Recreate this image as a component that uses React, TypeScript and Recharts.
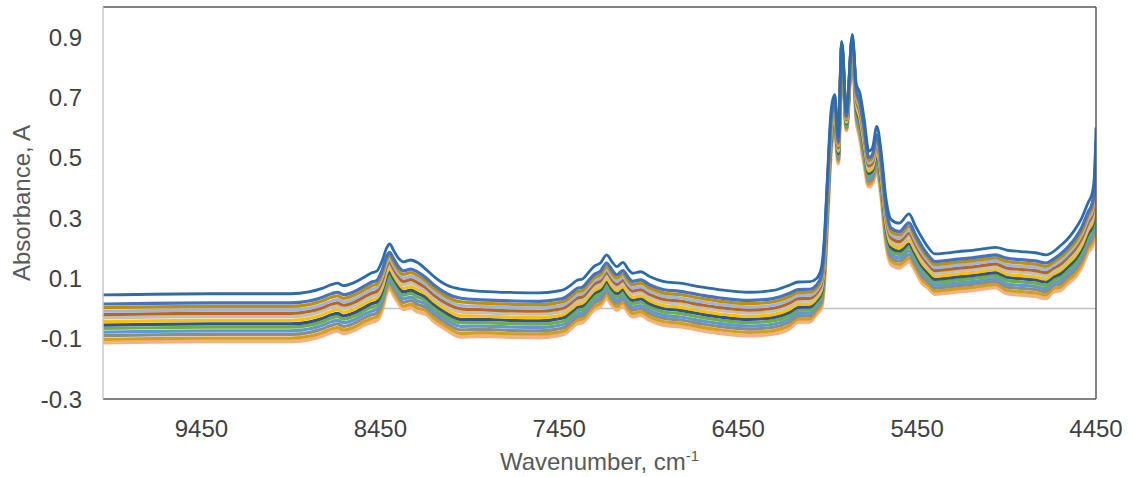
import { LineChart, Line, XAxis, YAxis, ReferenceLine } from 'recharts'

// wavenumber grid, cm-1 (denser where the CH overtone bands are sharp)
const wavenumbers = [
    10000, 9400, 8950, 8850, 8780, 8720, 8690, 8655, 8600, 8540,
    8500, 8470, 8440, 8415, 8398, 8375, 8350, 8320, 8280, 8240,
    8195, 8150, 8080, 8000, 7880, 7700, 7560, 7470, 7420, 7380,
    7350, 7320, 7290, 7255, 7220, 7185, 7155, 7128, 7095, 7060,
    7040, 6995, 6945, 6870, 6775, 6660, 6550, 6390, 6255, 6165,
    6115, 6050, 6012, 5985, 5970, 5950, 5930, 5910, 5890, 5871,
    5845, 5812, 5790, 5770, 5745, 5720, 5700, 5675, 5650, 5625,
    5595, 5550, 5495, 5460, 5420, 5385, 5350, 5290, 5220, 5140,
    5070, 5010, 4950, 4870, 4790, 4730, 4690, 4650, 4610, 4570,
    4530, 4495, 4470, 4458, 4450,
]

// highest spectrum, sits apart from the rest
const top = [
    0.045, 0.049, 0.049, 0.055, 0.066, 0.080, 0.084, 0.076, 0.085, 0.104,
    0.118, 0.124, 0.158, 0.200, 0.214, 0.192, 0.168, 0.155, 0.161, 0.152,
    0.130, 0.106, 0.078, 0.064, 0.057, 0.053, 0.052, 0.057, 0.064, 0.080,
    0.094, 0.098, 0.117, 0.140, 0.151, 0.178, 0.155, 0.139, 0.153, 0.127,
    0.117, 0.122, 0.106, 0.090, 0.084, 0.072, 0.062, 0.054, 0.060, 0.077,
    0.088, 0.089, 0.100, 0.135, 0.220, 0.450, 0.660, 0.709, 0.570, 0.886,
    0.650, 0.909, 0.745, 0.715, 0.625, 0.522, 0.532, 0.604, 0.516, 0.370,
    0.295, 0.283, 0.314, 0.274, 0.232, 0.200, 0.181, 0.184, 0.189, 0.193,
    0.199, 0.203, 0.194, 0.189, 0.185, 0.178, 0.188, 0.208, 0.230, 0.260,
    0.300, 0.350, 0.385, 0.450, 0.600,
]

const s01 = [
    .015, .019, .019, .025, .036, .050, .054, .046, .055, .074,
    .087, .093, .127, .172, .186, .164, .140, .125, .131, .121,
    .102, .078, .050, .034, .029, .025, .024, .029, .036, .053,
    .067, .071, .090, .113, .124, .151, .128, .112, .126, .100,
    .090, .095, .079, .063, .057, .045, .035, .027, .033, .050,
    .063, .064, .078, .110, .192, .422, .635, .687, .553, .878,
    .639, .898, .723, .687, .597, .500, .510, .576, .488, .342,
    .267, .255, .284, .246, .204, .175, .156, .159, .164, .168,
    .174, .178, .167, .162, .158, .151, .163, .180, .202, .230,
    .269, .319, .351, .414, .550,
]

const s02 = [
    .003, .007, .007, .013, .024, .038, .042, .034, .043, .062,
    .075, .081, .115, .161, .175, .153, .129, .113, .119, .109,
    .091, .067, .039, .022, .018, .014, .013, .018, .025, .042,
    .056, .060, .079, .102, .113, .140, .117, .101, .115, .089,
    .079, .084, .068, .052, .046, .034, .024, .016, .022, .039,
    .053, .054, .069, .100, .181, .411, .625, .678, .547, .874,
    .634, .893, .714, .676, .586, .491, .501, .565, .477, .331,
    .256, .244, .272, .235, .193, .165, .146, .149, .154, .158,
    .164, .168, .156, .151, .147, .140, .153, .169, .191, .218,
    .257, .307, .338, .399, .530,
]

const s03 = [
    -.009, -.005, -.005, .001, .012, .026, .030, .022, .031, .050,
    .063, .069, .103, .150, .164, .142, .118, .101, .107, .097,
    .080, .056, .028, .010, .007, .003, .002, .007, .014, .031,
    .045, .049, .068, .091, .102, .129, .106, .090, .104, .078,
    .068, .073, .057, .041, .035, .023, .013, .005, .011, .028,
    .043, .044, .060, .090, .170, .400, .615, .669, .540, .871,
    .630, .889, .705, .665, .575, .482, .492, .554, .466, .320,
    .245, .233, .260, .224, .182, .155, .136, .139, .144, .148,
    .154, .158, .145, .140, .136, .129, .143, .158, .180, .206,
    .245, .295, .325, .385, .510,
]

const s04 = [
    -.020, -.016, -.016, -.010, .001, .015, .019, .011, .020, .039,
    .051, .057, .091, .139, .153, .131, .107, .090, .096, .085,
    .069, .045, .017, -.001, -.004, -.008, -.009, -.004, .003, .021,
    .035, .039, .058, .081, .092, .119, .096, .080, .094, .068,
    .058, .063, .047, .031, .025, .013, .003, -.005, .001, .018,
    .033, .034, .051, .080, .159, .389, .605, .660, .533, .868,
    .626, .885, .696, .654, .564, .473, .483, .543, .455, .309,
    .234, .222, .249, .213, .171, .145, .126, .129, .134, .138,
    .144, .148, .135, .130, .126, .119, .133, .147, .169, .195,
    .233, .283, .312, .371, .490,
]

const s05 = [
    -.031, -.027, -.027, -.021, -.010, .004, .008, .000, .009, .028,
    .040, .046, .080, .129, .143, .121, .097, .079, .085, .074,
    .059, .035, .007, -.012, -.014, -.018, -.019, -.014, -.007, .011,
    .025, .029, .048, .071, .082, .109, .086, .070, .084, .058,
    .048, .053, .037, .021, .015, .003, -.007, -.015, -.009, .008,
    .024, .025, .043, .071, .149, .379, .596, .652, .527, .865,
    .622, .881, .688, .644, .554, .465, .475, .533, .445, .299,
    .224, .212, .238, .203, .161, .136, .117, .120, .125, .129,
    .135, .139, .125, .120, .116, .109, .124, .137, .159, .184,
    .222, .272, .300, .358, .472,
]

const s06 = [
    -.043, -.039, -.039, -.033, -.022, -.008, -.004, -.012, -.003, .016,
    .028, .034, .068, .118, .132, .110, .086, .067, .073, .062,
    .048, .024, -.004, -.024, -.025, -.029, -.030, -.025, -.018, .000,
    .014, .018, .037, .060, .071, .098, .075, .059, .073, .047,
    .037, .042, .026, .010, .004, -.008, -.018, -.026, -.020, -.003,
    .014, .015, .034, .061, .138, .368, .586, .643, .521, .861,
    .617, .876, .679, .633, .543, .456, .466, .522, .434, .288,
    .213, .201, .226, .192, .150, .126, .107, .110, .115, .119,
    .125, .129, .114, .109, .105, .098, .114, .126, .148, .172,
    .210, .260, .287, .343, .452,
]

const s07 = [
    -.055, -.051, -.051, -.045, -.034, -.020, -.016, -.024, -.015, .004,
    .016, .022, .056, .107, .121, .099, .075, .055, .061, .050,
    .037, .013, -.015, -.036, -.036, -.040, -.041, -.036, -.029, -.010,
    .004, .008, .027, .050, .061, .088, .065, .049, .063, .037,
    .027, .032, .016, .000, -.006, -.018, -.028, -.036, -.030, -.013,
    .004, .005, .026, .051, .127, .357, .576, .635, .514, .858,
    .613, .872, .671, .622, .532, .448, .458, .511, .423, .277,
    .202, .190, .214, .181, .139, .116, .097, .100, .105, .109,
    .115, .119, .104, .099, .095, .088, .104, .115, .137, .160,
    .198, .248, .273, .329, .433,
]

const s08 = [
    -.066, -.062, -.062, -.056, -.045, -.031, -.027, -.035, -.026, -.007,
    .004, .010, .044, .096, .110, .088, .064, .044, .050, .038,
    .026, .002, -.026, -.047, -.047, -.051, -.052, -.047, -.040, -.021,
    -.007, -.003, .016, .039, .050, .077, .054, .038, .052, .026,
    .016, .021, .005, -.011, -.017, -.029, -.039, -.047, -.041, -.024,
    -.006, -.005, .017, .041, .116, .346, .566, .626, .508, .855,
    .608, .867, .662, .611, .521, .439, .449, .500, .412, .266,
    .191, .179, .203, .170, .128, .106, .087, .090, .095, .099,
    .105, .109, .093, .088, .084, .077, .094, .104, .126, .149,
    .186, .236, .260, .315, .413,
]

const s09 = [
    -.078, -.074, -.074, -.068, -.057, -.043, -.039, -.047, -.038, -.019,
    -.009, -.003, .031, .085, .099, .077, .053, .032, .038, .025,
    .015, -.009, -.037, -.059, -.058, -.062, -.063, -.058, -.051, -.032,
    -.018, -.014, .005, .028, .039, .066, .043, .027, .041, .015,
    .005, .010, -.006, -.022, -.028, -.040, -.050, -.058, -.052, -.035,
    -.016, -.015, .008, .031, .105, .335, .556, .617, .501, .851,
    .604, .863, .653, .600, .510, .430, .440, .489, .401, .255,
    .180, .168, .191, .159, .117, .096, .077, .080, .085, .089,
    .095, .099, .082, .077, .073, .066, .084, .093, .115, .137,
    .173, .223, .247, .300, .393,
]

const s10 = [
    -.090, -.086, -.086, -.080, -.069, -.055, -.051, -.059, -.050, -.031,
    -.021, -.015, .019, .074, .088, .066, .042, .020, .026, .013,
    .004, -.020, -.048, -.071, -.069, -.073, -.074, -.069, -.062, -.042,
    -.028, -.024, -.005, .018, .029, .056, .033, .017, .031, .005,
    -.005, .000, -.016, -.032, -.038, -.050, -.060, -.068, -.062, -.045,
    -.025, -.024, -.001, .022, .094, .324, .547, .608, .494, .848,
    .600, .859, .644, .589, .499, .421, .431, .478, .390, .244,
    .169, .157, .179, .148, .106, .087, .068, .071, .076, .080,
    .086, .090, .072, .067, .063, .056, .075, .082, .104, .125,
    .161, .211, .234, .286, .373,
]

const s11 = [
    -.102, -.098, -.098, -.092, -.081, -.067, -.063, -.071, -.062, -.043,
    -.033, -.027, .007, .063, .077, .055, .031, .008, .014, .001,
    -.007, -.031, -.059, -.083, -.080, -.084, -.085, -.080, -.073, -.053,
    -.039, -.035, -.016, .007, .018, .045, .022, .006, .020, -.006,
    -.016, -.011, -.027, -.043, -.049, -.061, -.071, -.079, -.073, -.056,
    -.035, -.034, -.010, .012, .083, .313, .537, .599, .488, .845,
    .595, .854, .635, .578, .488, .412, .422, .467, .379, .233,
    .158, .146, .167, .137, .095, .077, .058, .061, .066, .070,
    .076, .080, .061, .056, .052, .045, .065, .071, .093, .113,
    .149, .199, .221, .272, .353,
]

const s12 = [
    -.113, -.109, -.109, -.103, -.092, -.078, -.074, -.082, -.073, -.054,
    -.045, -.039, -.005, .052, .066, .044, .020, -.003, .003, -.011,
    -.018, -.042, -.070, -.094, -.091, -.095, -.096, -.091, -.084, -.064,
    -.050, -.046, -.027, -.004, .007, .034, .011, -.005, .009, -.017,
    -.027, -.022, -.038, -.054, -.060, -.072, -.082, -.090, -.084, -.067,
    -.045, -.044, -.018, .002, .072, .302, .527, .591, .481, .842,
    .591, .850, .627, .567, .477, .404, .414, .456, .368, .222,
    .147, .135, .156, .126, .084, .067, .048, .051, .056, .060,
    .066, .070, .050, .045, .041, .034, .055, .060, .082, .102,
    .137, .187, .207, .258, .334,
]

const xTicks = [9450, 8450, 7450, 6450, 5450, 4450]
const yTicks = [-0.3, -0.1, 0.1, 0.3, 0.5, 0.7, 0.9]

const seriesKeys = ['s01', 's02', 's03', 's04', 's05', 's06', 's07', 's08', 's09', 's10', 's11', 's12']
const seriesValues = [s01, s02, s03, s04, s05, s06, s07, s08, s09, s10, s11, s12]
const seriesColors = [
    '#4472C4', '#BF9000', '#9DB4DE', '#B8651E', '#BFBFBF', '#FFC000',
    '#2F558F', '#70AD47', '#5B9BD5', '#8C8C8C', '#D4A017', '#F4B183',
]

const data = wavenumbers.map((w, i) => {
    const row: Record<string, number> = { w, top: top[i] }
    seriesKeys.forEach((k, j) => {
        row[k] = seriesValues[j][i]
    })
    return row
})

const tickStyle = { fill: '#404040', fontSize: 24 }

function XTitle({ viewBox }: any) {
    const cx = viewBox.x + viewBox.width / 2
    return (
        <text x={cx} y={viewBox.y + 71} textAnchor="middle" fill="#595959" fontSize={24}>
            Wavenumber, cm
            <tspan fontSize={15} dy={-9}>-1</tspan>
        </text>
    )
}

export default function App() {
    // draw from the lowest spectrum up so the upper ones stay on top
    const order = [...seriesKeys.keys()].reverse()

    return (
        <div style={{ position: 'absolute', left: 0, top: 0, fontFamily: '"Liberation Sans", Arial, sans-serif' }}>
            <LineChart width={1133} height={477} data={data} margin={{ top: 7, right: 37, bottom: 0, left: 0 }}>
                <ReferenceLine y={0} stroke="#BFBFBF" strokeWidth={1.5} />
                <XAxis
                    dataKey="w"
                    type="number"
                    domain={[4450, 10000]}
                    reversed
                    allowDataOverflow
                    ticks={xTicks}
                    interval={0}
                    height={78}
                    tickLine={false}
                    tickSize={10}
                    tickMargin={11}
                    tick={tickStyle}
                    axisLine={{ stroke: '#595959', strokeWidth: 1.5 }}
                    label={XTitle}
                />
                <YAxis
                    type="number"
                    domain={[-0.3, 1.0]}
                    allowDataOverflow
                    ticks={yTicks}
                    interval={0}
                    width={103}
                    tickLine={false}
                    tickSize={10}
                    tickMargin={11}
                    tick={tickStyle}
                    tickFormatter={(v: number) => v.toFixed(1)}
                    axisLine={{ stroke: '#C8C8C8', strokeWidth: 1.5 }}
                    label={{ value: 'Absorbance, A', angle: -90, position: 'center', dx: -30, fill: '#595959', fontSize: 24 }}
                />
                {order.map(j => (
                    <Line
                        key={seriesKeys[j]}
                        type="monotone"
                        dataKey={seriesKeys[j]}
                        stroke={seriesColors[j]}
                        strokeWidth={j === 11 ? 3.8 : 3.2}
                        dot={false}
                        isAnimationActive={false}
                    />
                ))}
                <Line
                    type="monotone"
                    dataKey="top"
                    stroke="#2E6CA8"
                    strokeWidth={2.8}
                    dot={false}
                    isAnimationActive={false}
                />
                <ReferenceLine y={1.0} stroke="#595959" strokeWidth={1.5} />
                <ReferenceLine x={4450} stroke="#595959" strokeWidth={1.5} />
            </LineChart>
        </div>
    )
}
